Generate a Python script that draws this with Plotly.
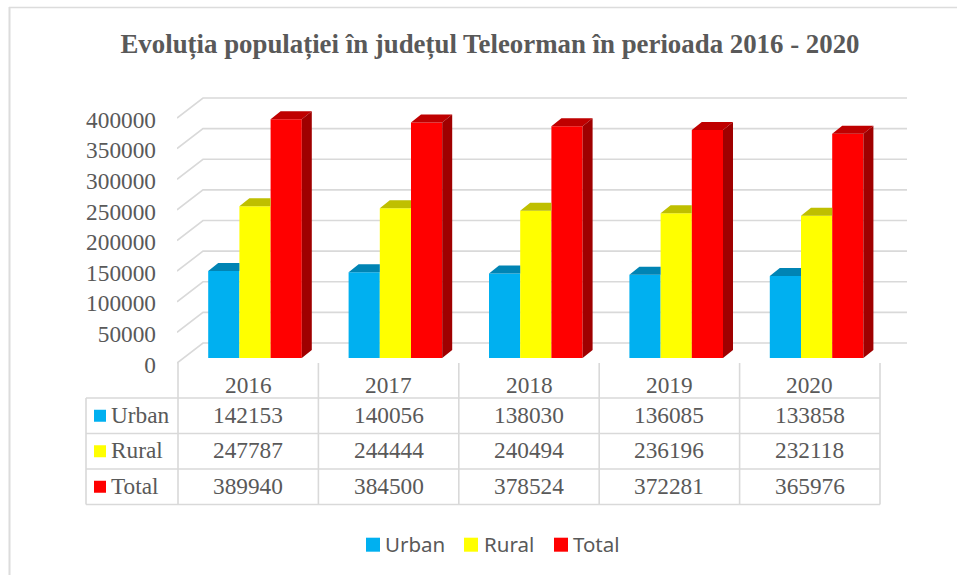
import plotly.graph_objects as go

# ---- data ----
years = [2016, 2017, 2018, 2019, 2020]
urban = [142153, 140056, 138030, 136085, 133858]
rural = [247787, 244444, 240494, 236196, 232118]
total = [389940, 384500, 378524, 372281, 365976]
series_names = ["Urban", "Rural", "Total"]
title_text = "Evoluția populației în județul Teleorman în perioada 2016 - 2020"
y_ticks = [0, 50000, 100000, 150000, 200000, 250000, 300000, 350000, 400000]

# ---- style ----
W, H = 957, 575
GREY = "#595959"
LINE = "#d9d9d9"
SERIF = "Liberation Serif"
front = ["#00b0f0", "#ffff00", "#ff0000"]
top = ["#0084b4", "#bfbf00", "#bf0000"]
side = ["#006a90", "#a0a000", "#9f0000"]
values = [urban, rural, total]

# pixel layout of the pseudo-3D scene
PX_L, PX_R, PX_T, PX_B = 177, 907, 90, 370
CAT_W = 140.4                 # px per category
GROUP_X0 = 255                # px of first bar group centre
Y0_LABEL, Y0_BAR = 364.5, 358 # px of value 0 for tick labels / at the bars
Y0_FRONT = 363                # px of value 0 where the gridlines start
PX_PER_UNIT = 245 / 400000
BAR_W = 0.2222
BAR_DX, BAR_DY = 10 / CAT_W, 8 / PX_PER_UNIT
WALL_DX, WALL_DY = 26 / CAT_W, 20 / PX_PER_UNIT
GRID_SHIFT = (Y0_LABEL - Y0_FRONT) / PX_PER_UNIT


def yrange(y0):
    return [(y0 - PX_B) / PX_PER_UNIT, (y0 - PX_T) / PX_PER_UNIT]


x_lo = years[0] + (PX_L - GROUP_X0) / CAT_W
x_hi = years[0] + (PX_R - GROUP_X0) / CAT_W

fig = go.Figure()

# back wall gridlines
gx, gy = [], []
for v in y_ticks:
    gx += [x_lo, x_lo + WALL_DX, x_hi, None]
    gy += [v + GRID_SHIFT, v + GRID_SHIFT + WALL_DY, v + GRID_SHIFT + WALL_DY, None]
fig.add_trace(go.Scatter(x=gx, y=gy, mode="lines", line=dict(color=LINE, width=1.6),
                         showlegend=False, hoverinfo="skip", yaxis="y"))

# bars (front faces)
for k, name in enumerate(series_names):
    fig.add_trace(go.Bar(x=years, y=values[k], name=name, marker=dict(color=front[k], line_width=0),
                         yaxis="y2", showlegend=False))

# top and side faces, derived from the values
for k in range(3):
    tx, ty, sx, sy = [], [], [], []
    for yr, v in zip(years, values[k]):
        x0 = yr + (k - 1.5) * BAR_W
        x1 = x0 + BAR_W
        if k < 2:  # neighbour on the right is taller and hides the rest
            tx += [x0, x0 + BAR_DX, x1, x1, None]
            ty += [v, v + BAR_DY, v + BAR_DY, v, None]
        else:
            tx += [x0, x0 + BAR_DX, x1 + BAR_DX, x1, None]
            ty += [v, v + BAR_DY, v + BAR_DY, v, None]
            sx += [x1, x1 + BAR_DX, x1 + BAR_DX, x1, None]
            sy += [0, BAR_DY, v + BAR_DY, v, None]
    fig.add_trace(go.Scatter(x=tx, y=ty, mode="lines", fill="toself", fillcolor=top[k],
                             line=dict(width=0), showlegend=False, hoverinfo="skip", yaxis="y2"))
    if sx:
        fig.add_trace(go.Scatter(x=sx, y=sy, mode="lines", fill="toself", fillcolor=side[k],
                                 line=dict(width=0), showlegend=False, hoverinfo="skip", yaxis="y2"))

# ---- data table, legend and frame, in page pixels ----
def px(x):
    return x / W


def py(y):
    return 1 - y / H


shapes = []


def seg(x0, y0, x1, y1, color=LINE, width=1.6):
    shapes.append(dict(type="line", xref="paper", yref="paper", x0=px(x0), y0=py(y0), x1=px(x1), y1=py(y1),
                       line=dict(color=color, width=width), layer="below"))


def swatch(x0, cy, size, color):
    shapes.append(dict(type="rect", xref="paper", yref="paper", x0=px(x0), x1=px(x0 + size),
                       y0=py(cy + size / 2), y1=py(cy - size / 2), fillcolor=color, line_width=0))


seg(9, 7.5, W, 7.5, "#dcdcdc", 1.5)
seg(9.5, 7, 9.5, H, "#dcdcdc", 2)
col_x = [178 + CAT_W * i for i in range(6)]
row_y = [398, 433.5, 469, 504.5]
for yy in row_y:
    seg(86, yy, col_x[-1], yy)
seg(86, row_y[0], 86, row_y[-1])
for xx in col_x:
    seg(xx, 363, xx, row_y[-1])

ann = []


def text(x, y, s, size=23.3, family=SERIF, anchor="center"):
    ann.append(dict(xref="paper", yref="paper", x=px(x), y=py(y), text=s, showarrow=False,
                    xanchor=anchor, yanchor="middle", font=dict(family=family, size=size, color=GREY)))


for i, yr in enumerate(years):
    cx = (col_x[i] + col_x[i + 1]) / 2
    text(cx, 384.5, str(yr))
    for r in range(3):
        text(cx, (row_y[r] + row_y[r + 1]) / 2 - 1, str(values[r][i]))
for r, name in enumerate(series_names):
    cy = (row_y[r] + row_y[r + 1]) / 2
    text(109, cy - 1, name, anchor="left")
    swatch(94, cy, 12, front[r])

# legend
legend_swatch_x = [366, 464, 554]
legend_text_x = [383, 482, 571]
for k, name in enumerate(series_names):
    swatch(legend_swatch_x[k], 544.7, 14, front[k])
    text(legend_text_x[k], 544, name, size=20.5, family="Noto Sans", anchor="left")

fig.update_layout(
    width=W, height=H, autosize=False,
    margin=dict(l=0, r=0, t=0, b=0),
    paper_bgcolor="white", plot_bgcolor="rgba(0,0,0,0)",
    barmode="group", bargap=1 - 3 * BAR_W, bargroupgap=0,
    title=dict(text=f"<b>{title_text}</b>", x=490 / W, xanchor="center", y=py(44), yanchor="middle",
               font=dict(family=SERIF, size=26.85, color=GREY)),
    xaxis=dict(domain=[px(PX_L), px(PX_R)], range=[x_lo, x_hi], visible=False),
    yaxis=dict(domain=[py(PX_B), py(PX_T)], range=yrange(Y0_LABEL), tickvals=y_ticks, tickformat="d",
               showgrid=False, zeroline=False, showline=False, ticks="", ticklabelstandoff=20,
               tickfont=dict(family=SERIF, size=23.3, color=GREY), automargin=False),
    yaxis2=dict(domain=[py(PX_B), py(PX_T)], range=yrange(Y0_BAR), overlaying="y", visible=False),
    shapes=shapes, annotations=ann, showlegend=False,
)

fig.write_html("out.html", config=dict(displayModeBar=False), post_script="document.body.style.margin='0';")
